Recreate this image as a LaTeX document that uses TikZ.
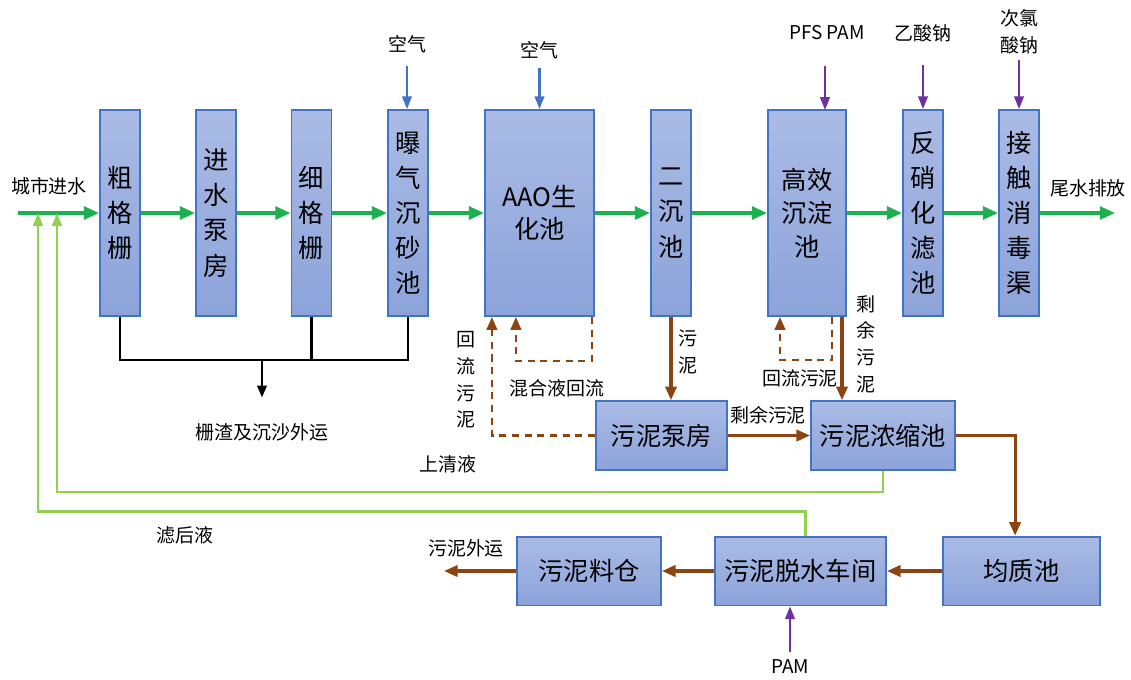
\documentclass[tikz,border=0pt]{standalone}
\usepackage{fontspec}
\setmainfont{Noto Sans CJK SC}
\usetikzlibrary{arrows.meta}
\definecolor{boxline}{HTML}{4472C4}
\definecolor{boxtop}{HTML}{AABBE5}
\definecolor{boxbot}{HTML}{8CA3DA}
\definecolor{water}{HTML}{1DB04E}
\definecolor{backwater}{HTML}{92D050}
\definecolor{sludge}{HTML}{8B4513}
\definecolor{dose}{HTML}{7030A0}
\definecolor{air}{HTML}{4472C4}

\begin{document}
\begin{tikzpicture}[x=0.025cm,y=-0.025cm,
  vbox/.style={draw=boxline,line width=1.3pt,top color=boxtop,bottom color=boxbot,
    minimum width=1cm,minimum height=5.15cm,inner sep=0pt,align=center,
    font=\fontsize{18}{25}\selectfont},
  hbox/.style={draw=boxline,line width=1.3pt,top color=boxtop,bottom color=boxbot,
    minimum height=1.72cm,inner sep=0pt,font=\fontsize{18}{21}\selectfont},
  lbl/.style={inner sep=1pt,align=center,font=\fontsize{13.5}{19}\selectfont},
  flow/.style={draw=water,line width=2.4pt,-{Triangle[length=0.38cm,width=0.32cm]}},
  feed/.style={line width=1.6pt,-{Triangle[length=0.32cm,width=0.24cm]}},
  sludgeflow/.style={draw=sludge,line width=2.2pt,-{Triangle[length=0.34cm,width=0.28cm]}},
  sludgeback/.style={draw=sludge,line width=1.8pt,dash pattern=on 5pt off 4pt,-{Triangle[length=0.32cm,width=0.26cm]}},
  backflow/.style={draw=backwater,line width=1.7pt,-{Triangle[length=0.32cm,width=0.24cm]}}]
\useasboundingbox (0,0) rectangle (1131,679);

% main line
\node[vbox] (cgs) at (120,213) {粗\\格\\栅};
\node[vbox] (jsbf) at (216,213) {进\\水\\泵\\房};
\node[vbox] (xgs) at (311.5,213) {细\\格\\栅};
\node[vbox] (cscc) at (408,213) {曝\\气\\沉\\砂\\池};
\node[vbox,minimum width=2.725cm,font=\fontsize{18}{23}\selectfont] (aao) at (539.5,213) {AAO生\\化池};
\node[vbox] (ecc) at (671,213) {二\\沉\\池};
\node[vbox,minimum width=1.95cm,font=\fontsize{18}{24}\selectfont] (gxcd) at (807,213) {高效\\沉淀\\池};
\node[vbox] (fxlc) at (923,213) {反\\硝\\化\\滤\\池};
\node[vbox] (jcxd) at (1019,213) {接\\触\\消\\毒\\渠};

\node[lbl] (csjs) at (49,186) {城市进水};
\node[lbl] (wspf) at (1088,188) {尾水排放};
\coordinate (win) at (18,213);
\coordinate (wout) at (1115,213);
\draw[flow] (win) -- (cgs.west);
\foreach \a/\b in {cgs/jsbf,jsbf/xgs,xgs/cscc,cscc/aao,aao/ecc,ecc/gxcd,gxcd/fxlc,fxlc/jcxd}
  \draw[flow] (\a.east) -- (\b.west);
\draw[flow] (jcxd.east) -- (wout);

% air and dosing
\node[lbl] (kq1) at (407,44) {空气};
\node[lbl] (kq2) at (539.5,50) {空气};
\node[lbl] (pfs) at (827,33) {PFS PAM};
\node[lbl] (ysn) at (923,33) {乙酸钠};
\node[lbl] (clsn) at (1019,32) {次氯\\酸钠};
\draw[feed,draw=air] ([yshift=-0.28cm]kq1.south) -- (kq1.south |- cscc.north);
\draw[feed,draw=air] ([yshift=-0.2cm]kq2.south) -- (aao.north);
\draw[feed,draw=dose] (825,66) -- (825,110);
\draw[feed,draw=dose] ([yshift=-0.55cm]ysn.south) -- (fxlc.north);
\draw[feed,draw=dose] ([yshift=-0.1cm]clsn.south) -- (jcxd.north);

% screenings
\coordinate (zs) at (262,360);
\draw[line width=1.6pt] (cgs.south) -- (cgs.south |- zs) -- (cscc.south |- zs) -- (cscc.south);
\draw[line width=1.6pt] (xgs.south) -- (xgs.south |- zs);
\node[lbl] (zsyy) at (262,432) {栅渣及沉沙外运};
\draw[line width=1.6pt,-{Triangle[length=0.3cm,width=0.24cm]}] (zs) -- ([yshift=0.6cm]zsyy.north);

% sludge line
\node[hbox,minimum width=3.275cm] (wnbf) at (661.5,435.5) {污泥泵房};
\node[hbox,minimum width=3.6cm] (nsc) at (883,435.5) {污泥浓缩池};
\node[hbox,minimum width=3.925cm] (jzc) at (1021.5,571) {均质池};
\node[hbox,minimum width=4.275cm] (tsc) at (800.5,571) {污泥脱水车间};
\node[hbox,minimum width=3.6cm] (lc) at (589,571) {污泥料仓};

\draw[sludgeflow] (ecc.south) -- (ecc.south |- wnbf.north);
\node[lbl] at (688,352) {污\\泥};
\draw[sludgeflow] (wnbf.east) -- (nsc.west);
\node[lbl] at (768,415) {剩余污泥};
\draw[sludgeflow] ([xshift=0.875cm]gxcd.south) -- ([xshift=0.875cm]gxcd.south |- nsc.north);
\node[lbl] at (866,344) {剩\\余\\污\\泥};
\draw[sludgeback] ([xshift=0.625cm]gxcd.south) -- ++(0,43) -| ([xshift=-0.675cm]gxcd.south);
\node[lbl] at (800,378) {回流污泥};
\draw[sludgeback] ([xshift=1.31cm]aao.south) -- ++(0,44) -| ([xshift=-0.59cm]aao.south);
\node[lbl] at (557,388) {混合液回流};
\draw[sludgeback] (wnbf.west) -| ([xshift=-1.19cm]aao.south);
\node[lbl] at (466,380) {回\\流\\污\\泥};

\draw[sludgeflow] (nsc.east) -| ([xshift=-0.16cm]jzc.north);
\draw[sludgeflow] (jzc.west) -- (tsc.east);
\draw[sludgeflow] (tsc.west) -- (lc.east);
\coordinate (wnout) at (444,571);
\draw[sludgeflow] (lc.west) -- (wnout);
\node[lbl] at (466,548) {污泥外运};

\node[lbl] (pam) at (790,667) {PAM};
\draw[feed,draw=dose] ([yshift=0.15cm]pam.north) -- (pam.north |- tsc.south);

% returned liquor
\coordinate (ret1) at (57,213);
\coordinate (ret2) at (38,213);
\draw[backflow] (nsc.south) -- ++(0,21) -| (ret1);
\draw[backflow] ([xshift=0.12cm]tsc.north) -- ++(0,-24) -| (ret2);
\node[lbl] at (448,464) {上清液};
\node[lbl] at (185,535) {滤后液};
\end{tikzpicture}
\end{document}
